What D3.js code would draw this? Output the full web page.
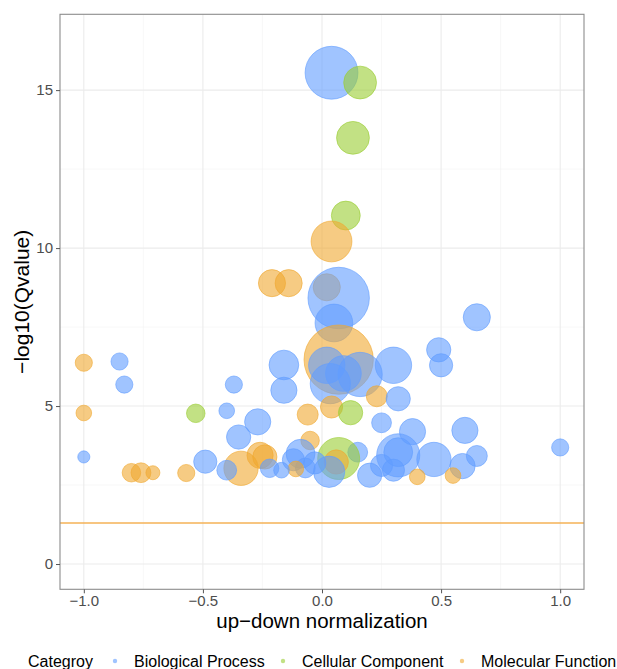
<!DOCTYPE html>
<html>
  <head>
    <meta charset="utf-8">
    <title>GO bubble chart</title>
    <script src="https://d3js.org/d3.v7.min.js"></script>
    <style>
      body { margin: 0; background: #fff; }
      text { font-family: "Liberation Sans", Arial, sans-serif; }
      .grid-major { stroke: #ebebeb; stroke-width: 1.1; }
      .grid-minor { stroke: #f4f4f4; stroke-width: 0.6; }
      .axis path { display: none; }
      .axis line { stroke: #555; }
      .axis text { fill: #4d4d4d; font-size: 15px; }
    </style>
  </head>
  <body>
    <svg id="chart" width="617" height="669"></svg>
    <script>
      // categories and colours
      categories = ["Biological Process", "Cellular Component", "Molecular Function"];
      colours = ["#619CFF", "#9ACD32", "#F0A830"];
      // [up-down normalization, -log10(Qvalue), gene count]
      bioProcess = [
        [0.04, 15.55, 57], [0.07, 8.42, 77], [0.05, 7.63, 29], [0.65, 7.81, 15],
        [-0.85, 6.41, 6], [-0.83, 5.68, 6], [-0.37, 5.68, 6], [-0.16, 6.30, 18],
        [-0.16, 5.50, 14], [0.02, 6.29, 27], [0.09, 6.03, 26], [0.16, 6.00, 40],
        [0.035, 5.71, 33], [0.30, 6.29, 27], [0.49, 6.78, 12], [0.50, 6.29, 11],
        [0.32, 5.23, 12], [0.25, 4.47, 8], [0.38, 4.19, 14], [0.60, 4.23, 14],
        [-0.40, 4.85, 5], [-0.27, 4.50, 14], [-0.35, 4.02, 12], [-1.00, 3.39, 3],
        [-0.49, 3.24, 11], [-0.40, 2.97, 8], [-0.22, 3.03, 7], [-0.17, 2.97, 5],
        [-0.09, 3.49, 17], [-0.12, 3.30, 10], [-0.07, 3.04, 8], [0.03, 2.92, 20],
        [0.15, 3.54, 8], [0.20, 2.81, 12], [0.25, 3.12, 10], [0.30, 2.97, 10],
        [0.32, 3.44, 38], [0.32, 3.54, 17], [0.47, 3.31, 24], [0.59, 3.10, 13],
        [0.65, 3.42, 9], [1.00, 3.69, 6], [-0.03, 3.20, 10]
      ];
      cellComponent = [
        [0.16, 15.24, 22], [0.13, 13.49, 22], [0.10, 11.03, 17],
        [-0.53, 4.77, 7], [0.12, 4.79, 12], [0.07, 3.34, 36]
      ];
      molFunction = [
        [0.04, 10.21, 34], [-0.21, 8.89, 15], [-0.14, 8.89, 15], [0.02, 8.76, 15],
        [0.07, 6.47, 98], [-1.00, 6.37, 6], [-1.00, 4.78, 5], [-0.06, 4.73, 9],
        [0.04, 4.97, 10], [0.23, 5.31, 9], [-0.05, 3.91, 7], [-0.80, 2.89, 7],
        [-0.76, 2.89, 8], [-0.71, 2.89, 4], [-0.57, 2.88, 6], [-0.34, 3.03, 24],
        [-0.26, 3.44, 14], [-0.24, 3.39, 12], [-0.11, 3.01, 5], [0.06, 3.23, 12],
        [0.40, 2.76, 5], [0.55, 2.80, 5]
      ];
      xTicks = [-1, -0.5, 0, 0.5, 1];
      xMinor = [-0.75, -0.25, 0.25, 0.75];
      yTicks = [0, 5, 10, 15];
      yMinor = [2.5, 7.5, 12.5];
      cutoff = 1.3; // -log10(0.05)

      // points, drawn in order of Qvalue (most significant first)
      points = [];
      [bioProcess, cellComponent, molFunction].forEach(function(rows, i) {
        rows.forEach(function(r) {
          points.push({x: r[0], y: r[1], size: r[2], cat: i});
        });
      });
      points.sort(function(a, b) { return b.y - a.y; });

      svg = d3.select("#chart");
      panel = {left: 60, right: 584, top: 14.3, bottom: 589.3};
      x = d3.scaleLinear()
        .domain([-1.1, 1.1])
        .range([panel.left, panel.right]);
      y = d3.scaleLinear()
        .domain([-0.8, 17.4])
        .range([panel.bottom, panel.top]);
      r = d3.scaleSqrt()
        .domain([0, 100])
        .range([0, 35]);

      // grid
      grid = svg.append("g");
      grid.selectAll(".vminor")
        .data(xMinor)
        .enter().append("line")
          .attr("class", "grid-minor")
          .attr("x1", function(d) { return x(d); })
          .attr("x2", function(d) { return x(d); })
          .attr("y1", panel.top)
          .attr("y2", panel.bottom);
      grid.selectAll(".hminor")
        .data(yMinor)
        .enter().append("line")
          .attr("class", "grid-minor")
          .attr("x1", panel.left)
          .attr("x2", panel.right)
          .attr("y1", function(d) { return y(d); })
          .attr("y2", function(d) { return y(d); });
      grid.selectAll(".vmajor")
        .data(xTicks)
        .enter().append("line")
          .attr("class", "grid-major")
          .attr("x1", function(d) { return x(d); })
          .attr("x2", function(d) { return x(d); })
          .attr("y1", panel.top)
          .attr("y2", panel.bottom);
      grid.selectAll(".hmajor")
        .data(yTicks)
        .enter().append("line")
          .attr("class", "grid-major")
          .attr("x1", panel.left)
          .attr("x2", panel.right)
          .attr("y1", function(d) { return y(d); })
          .attr("y2", function(d) { return y(d); });

      // cutoff line
      svg.append("line")
        .attr("x1", panel.left)
        .attr("x2", panel.right)
        .attr("y1", y(cutoff))
        .attr("y2", y(cutoff))
        .style("stroke", "#F5B256")
        .style("stroke-width", 1.6);

      // bubbles
      svg.append("g")
        .selectAll("circle")
          .data(points)
        .enter().append("circle")
          .attr("cx", function(d) { return x(d.x); })
          .attr("cy", function(d) { return y(d.y); })
          .attr("r", function(d) { return r(d.size); })
          .style("fill", function(d) { return colours[d.cat]; })
          .style("fill-opacity", 0.6)
          .style("stroke", function(d) { return colours[d.cat]; })
          .style("stroke-opacity", 0.6)
          .style("stroke-width", 1);

      // panel border
      svg.append("rect")
        .attr("x", panel.left)
        .attr("y", panel.top)
        .attr("width", panel.right - panel.left)
        .attr("height", panel.bottom - panel.top)
        .style("fill", "none")
        .style("stroke", "#8c8c8c")
        .style("stroke-width", 1.1);

      // axes
      svg.append("g")
        .attr("class", "axis")
        .attr("transform", "translate(0," + panel.bottom + ")")
        .call(d3.axisBottom(x).tickValues(xTicks).tickFormat(d3.format(".1f")).tickSize(4).tickPadding(2));
      svg.append("g")
        .attr("class", "axis")
        .attr("transform", "translate(" + panel.left + ",0)")
        .call(d3.axisLeft(y).tickValues(yTicks).tickSize(4).tickPadding(3));

      // titles
      svg.append("text")
        .attr("x", (panel.left + panel.right) / 2)
        .attr("y", 628)
        .attr("text-anchor", "middle")
        .style("font-size", "20.5px")
        .text("up\u2212down normalization");
      svg.append("text")
        .attr("transform", "translate(29," + (panel.top + panel.bottom) / 2 + ") rotate(-90)")
        .attr("text-anchor", "middle")
        .style("font-size", "21px")
        .text("\u2212log10(Qvalue)");

      // legend
      legend = svg.append("g")
        .attr("transform", "translate(0,667)");
      legend.append("text")
        .attr("x", 28)
        .style("font-size", "16px")
        .text("Categroy");
      keyX = [115, 283, 462];
      categories.forEach(function(c, i) {
        legend.append("circle")
          .attr("cx", keyX[i])
          .attr("cy", -6)
          .attr("r", 2.2)
          .style("fill", colours[i])
          .style("fill-opacity", 0.6);
        legend.append("text")
          .attr("x", keyX[i] + 19)
          .style("font-size", "16px")
          .text(c);
      });
    </script>
  </body>
</html>
